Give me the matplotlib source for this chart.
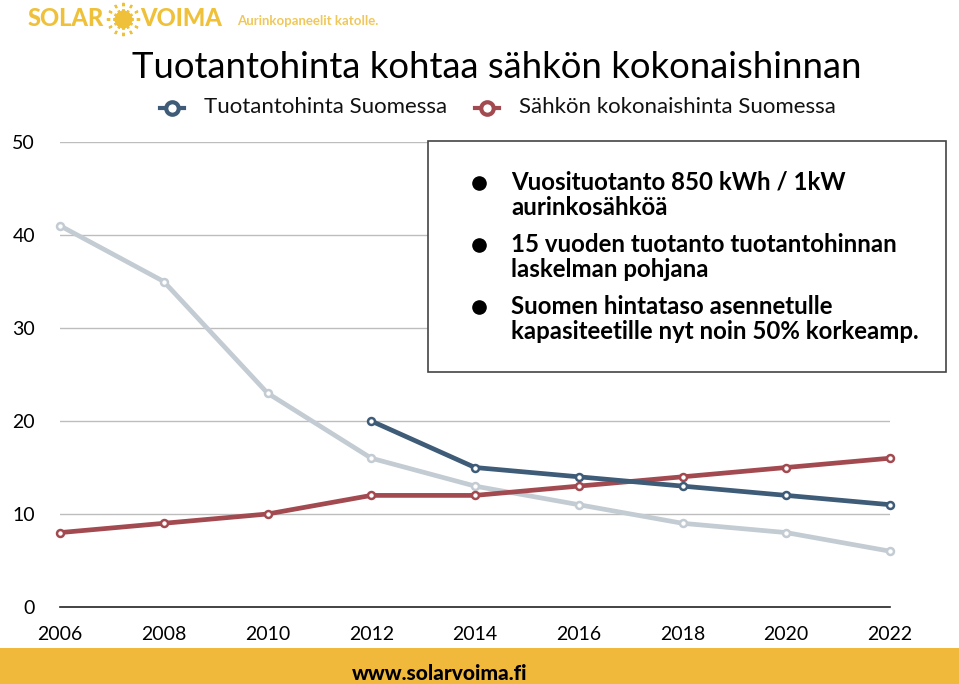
import matplotlib
matplotlib.use("Agg")
import matplotlib.pyplot as plt
from matplotlib.patches import Rectangle

years = [2006, 2008, 2010, 2012, 2014, 2016, 2018, 2020, 2022]
gray_vals = [41, 35, 23, 16, 13, 11, 9, 8, 6]
blue_years = [2012, 2014, 2016, 2018, 2020, 2022]
blue_vals = [20, 15, 14, 13, 12, 11]
red_vals = [8, 9, 10, 12, 12, 13, 14, 15, 16]
yticks = [0, 10, 20, 30, 40, 50]
legend_labels = ["Tuotantohinta Suomessa", "Sähkön kokonaishinta Suomessa"]
bullets = ["Vuosituotanto 850 kWh / 1kW\naurinkosähköä",
           "15 vuoden tuotanto tuotantohinnan\nlaskelman pohjana",
           "Suomen hintataso asennetulle\nkapasiteetille nyt noin 50% korkeamp."]

BLUE = "#3e5b78"
RED = "#a24a50"
GRAY = "#c3cbd3"
YELLOW = "#f1b93c"
FONT = "Lato"

W, H = 959, 684
fig = plt.figure(figsize=(W / 100, H / 100), dpi=100)
fig.patch.set_facecolor("white")

def fx(px):
    return px / W

def fy(py):
    return 1 - py / H

ax = fig.add_axes([fx(60), fy(607), fx(890) - fx(60), fy(142) - fy(607)])
ax.set_xlim(2006, 2022)
ax.set_ylim(0, 50)
for s in ax.spines.values():
    s.set_visible(False)
for t in yticks[1:]:
    ax.axhline(t, color="#bdbdbd", lw=1.0, zorder=0)
ax.axhline(0, color="#222222", lw=1.2, zorder=0, clip_on=False)
ax.set_yticks(yticks)
ax.set_xticks(years)
ax.tick_params(length=0, labelsize=14)
ax.tick_params(axis="y", pad=18)
ax.tick_params(axis="x", pad=14)
for lab in ax.get_xticklabels() + ax.get_yticklabels():
    lab.set_fontfamily(FONT)

mk = dict(marker="o", markersize=5, markerfacecolor="white", markeredgewidth=1.8,
          solid_capstyle="round", clip_on=False)
ax.plot(years, gray_vals, color=GRAY, lw=3.4, markeredgecolor=GRAY, zorder=2, **mk)
ax.plot(years, red_vals, color=RED, lw=3.4, markeredgecolor=RED, zorder=3, **mk)
ax.plot(blue_years, blue_vals, color=BLUE, lw=3.4, markeredgecolor=BLUE, zorder=4, **mk)

# Overlay in pixel coordinates
ov = fig.add_axes([0, 0, 1, 1], facecolor="none")
ov.set_xlim(0, W)
ov.set_ylim(H, 0)
ov.axis("off")

# Info box
ov.add_patch(Rectangle((428, 141), 518, 231, facecolor="white",
                       edgecolor="#444444", lw=1.2, zorder=5))
bullet_y = [184, 246, 308]
for by, txt in zip(bullet_y, bullets):
    ov.plot([479], [by - 1], marker="o", color="black", markersize=9.5, zorder=6)
    ov.text(511, by - 13, txt, fontsize=17.3, fontweight="bold", family=FONT,
            va="top", ha="left", linespacing=1.08, zorder=6)

# Title
ov.text(497, 67, "Tuotantohinta kohtaa sähkön kokonaishinnan", fontsize=26.3,
        family=FONT, ha="center", va="center", color="black")

# Legend
for cx, col, lab in [(172, BLUE, legend_labels[0]), (487, RED, legend_labels[1])]:
    ov.plot([cx - 12, cx + 12], [108, 108], color=col, lw=3)
    ov.plot([cx], [108], marker="o", markersize=9, markerfacecolor="white",
            markeredgecolor=col, markeredgewidth=3)
    ov.text(cx + 32, 107, lab, fontsize=16, family=FONT, ha="left", va="center",
            color="#111111")

# Logo
LOGO = "#efc13a"
ov.text(28, 19, "SOLAR", fontsize=17, fontweight="black", family=FONT,
        color=LOGO, ha="left", va="center")
ov.plot([123], [19], marker=(12, 2, 0), markersize=24, color=LOGO,
        markeredgewidth=1.5, linestyle="none")
ov.plot([123], [19], marker="o", markersize=17, markerfacecolor="none",
        markeredgecolor="white", markeredgewidth=2)
ov.plot([123], [19], marker="o", markersize=13, color=LOGO, markeredgewidth=0)
ov.text(140, 19, "VOIMA", fontsize=17, fontweight="black", family=FONT,
        color=LOGO, ha="left", va="center")
ov.text(237, 21, "Aurinkopaneelit katolle.", fontsize=9.5, fontweight="bold",
        family=FONT, color="#f0c85a", ha="left", va="center")

# Footer
ov.add_patch(Rectangle((0, 648), W, 40, facecolor=YELLOW, edgecolor="none", zorder=1))
ov.text(440, 673, "www.solarvoima.fi", fontsize=15, fontweight="black", family=FONT,
        color="black", ha="center", va="center", zorder=2)

fig.savefig("out.png", dpi=100)
